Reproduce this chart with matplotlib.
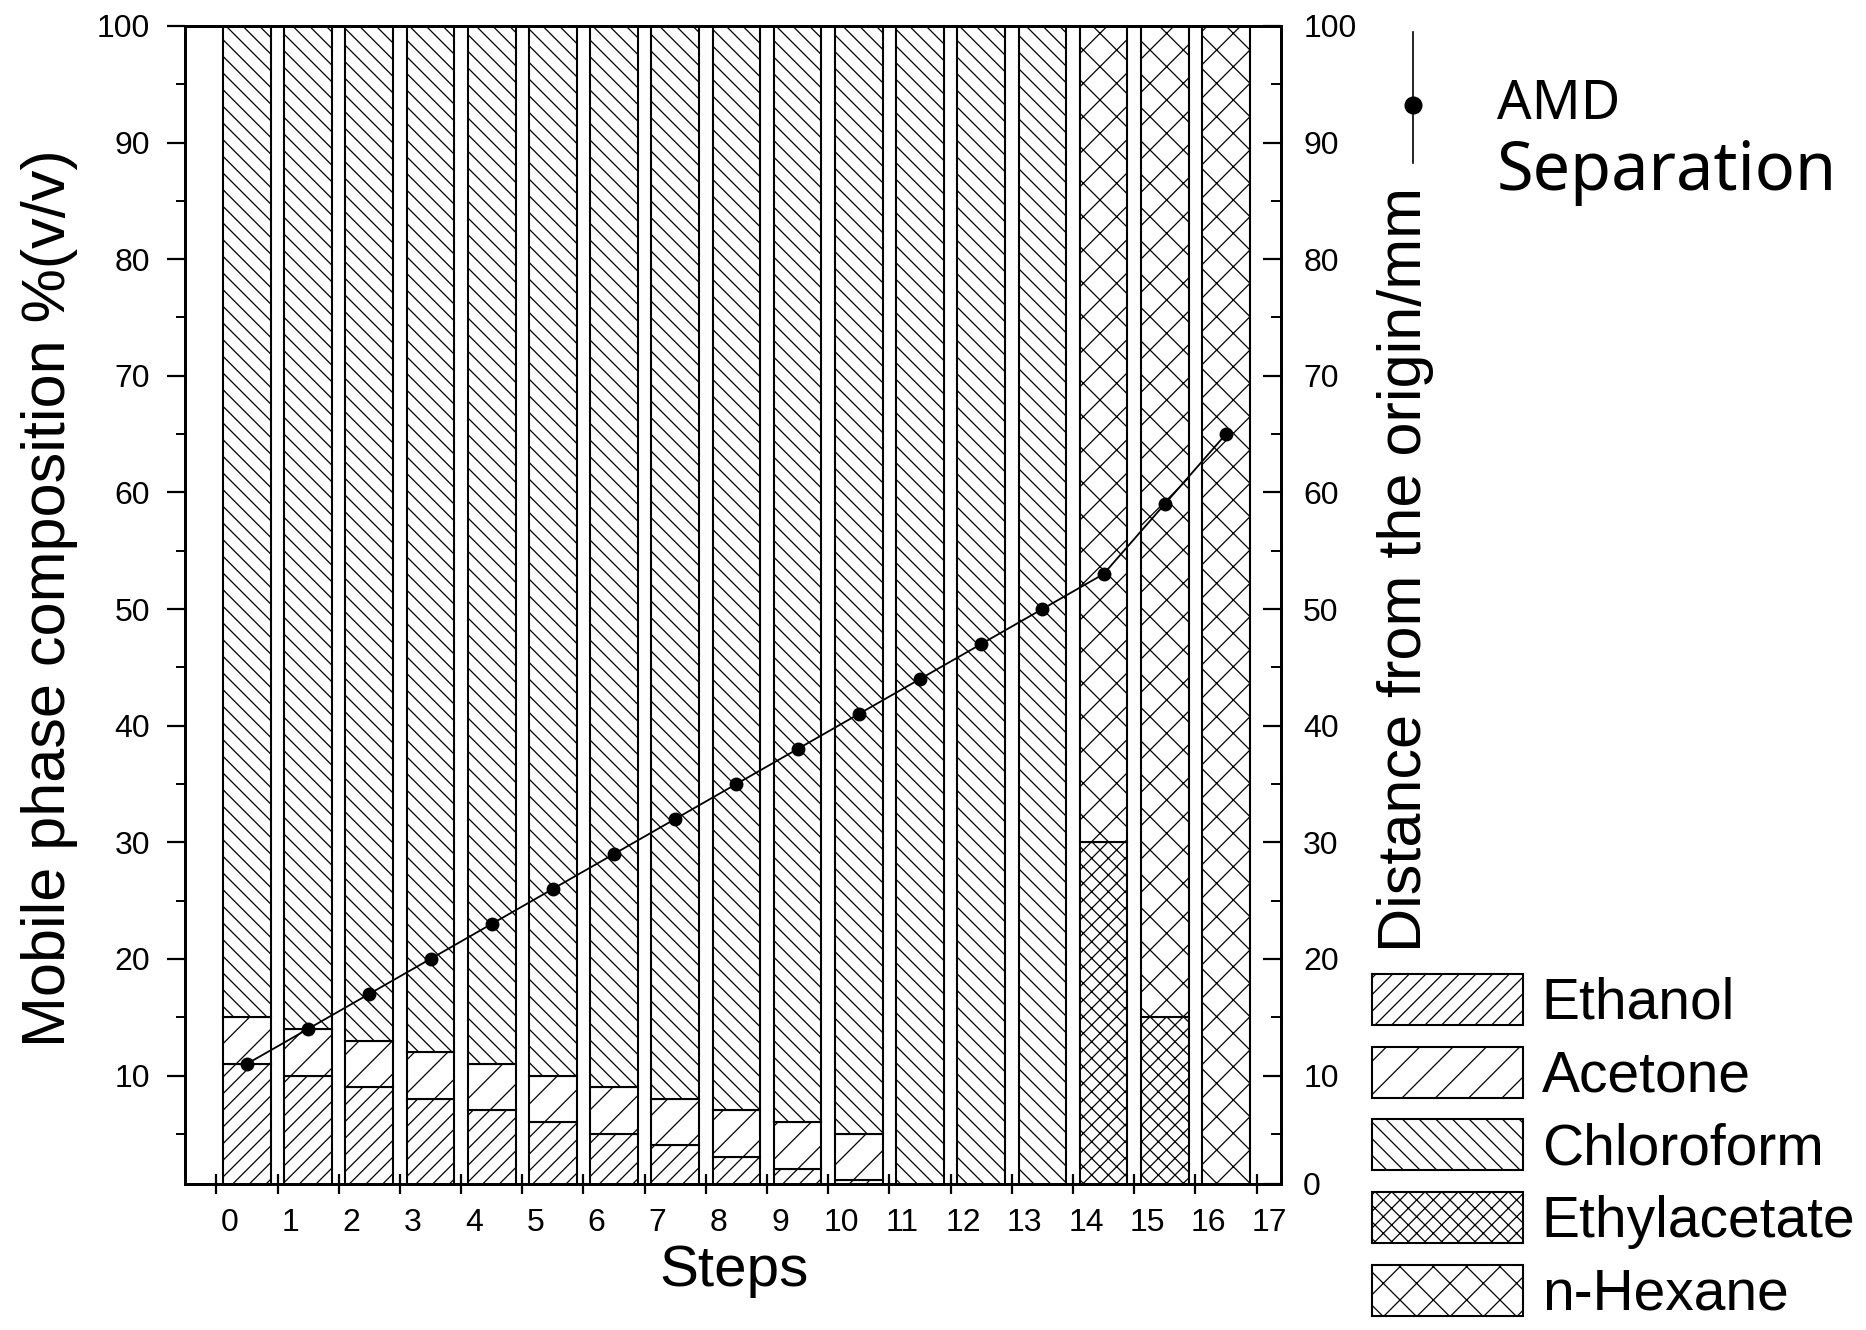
import matplotlib
matplotlib.use('Agg')
import numpy as np
import matplotlib.pyplot as plt
from matplotlib.lines import Line2D
from matplotlib.ticker import MultipleLocator
from matplotlib.transforms import ScaledTranslation

plt.rcParams['font.family'] = ['Liberation Sans', 'DejaVu Sans']
plt.rcParams['hatch.linewidth'] = 0.9

# mobile phase composition per step, % (v/v)
steps = list(range(17))
ethanol = [11, 10, 9, 8, 7, 6, 5, 4, 3, 2, 1, 0, 0, 0, 0, 0, 0]
acetone = [4, 4, 4, 4, 4, 4, 4, 4, 4, 4, 4, 0, 0, 0, 0, 0, 0]
chloroform = [85, 86, 87, 88, 89, 90, 91, 92, 93, 94, 95, 100, 100, 100, 0, 0, 0]
ethylacetate = [0, 0, 0, 0, 0, 0, 0, 0, 0, 0, 0, 0, 0, 0, 30, 15, 0]
hexane = [0, 0, 0, 0, 0, 0, 0, 0, 0, 0, 0, 0, 0, 0, 70, 85, 100]
# AMD separation, distance from origin (mm)
amd = [11, 14, 17, 20, 23, 26, 29, 32, 35, 38, 41, 44, 47, 50, 53, 59, 65]

solvents = ['Ethanol', 'Acetone', 'Chloroform', 'Ethylacetate', 'n-Hexane']
hatches = ['//', '/', '\\\\', 'xx', 'x']

fig = plt.figure(figsize=(18.66, 13.30), dpi=100)
ax = fig.add_axes([0.0989, 0.1098, 0.5876, 0.8707])

x = np.array(steps) + 0.5
comps = [ethanol, acetone, chloroform, ethylacetate, hexane]
bottom = np.zeros(len(steps))
handles = []
for vals, h in zip(comps, hatches):
    vals = np.array(vals, dtype=float)
    m = vals > 0
    bc = ax.bar(x[m], vals[m], bottom=bottom[m], width=0.78, color='white',
                edgecolor='black', linewidth=1.5, hatch=h, zorder=2)
    handles.append(bc)
    bottom += vals

# the scanned axes start a touch above zero
ybot = 0.7
ax.set_xlim(-0.52, 17.4)
ax.set_ylim(ybot, 100)
ax.set_xticks(range(18))
ax.yaxis.set_major_locator(MultipleLocator(10))
ax.yaxis.set_minor_locator(MultipleLocator(5))
ax.tick_params(axis='x', direction='inout', length=14, width=1.6, labelsize=23, pad=10)
ax.tick_params(axis='y', which='major', direction='out', length=13, width=1.6,
               labelsize=23, pad=12)
ax.tick_params(axis='y', which='minor', direction='out', length=6.5, width=1.4)
for sp in ax.spines.values():
    sp.set_linewidth(2)

# tick labels sit a bit to the right of their ticks
off = ScaledTranslation(9.4 / 72, 0, fig.dpi_scale_trans)
for lab in ax.get_xticklabels():
    lab.set_transform(lab.get_transform() + off)

ax.set_xlabel('Steps', fontsize=42)
ax.xaxis.set_label_coords(0.501, -0.052)
ax.set_ylabel('Mobile phase composition %(v/v)', fontsize=44)
ax.yaxis.set_label_coords(-0.097, 0.506)

ax2 = ax.twinx()
ax2.plot(x, amd, '-o', color='black', lw=1.3, ms=9, zorder=5)
ax2.set_ylim(ybot, 100)
rt = [ybot] + list(range(10, 101, 10))
ax2.set_yticks(rt, ['0'] + [str(v) for v in range(10, 101, 10)])
ax2.yaxis.set_minor_locator(MultipleLocator(5))
ax2.tick_params(axis='y', which='major', direction='in', length=13, width=1.6,
                labelsize=23, pad=16)
ax2.tick_params(axis='y', which='minor', direction='in', length=7, width=1.4)
ax2.set_ylabel('Distance from the origin/mm', fontsize=44)
ax2.yaxis.set_label_coords(1.0876, 0.531)
for sp in ax2.spines.values():
    sp.set_linewidth(2)

ax.legend(handles, solvents, loc='upper left',
          bbox_to_anchor=(1372 / 1866, 1 - 974 / 1330), bbox_transform=fig.transFigure,
          frameon=False, fontsize=41, handlelength=2.65, handleheight=1.0,
          labelspacing=0.275, handletextpad=0.33, borderpad=0, borderaxespad=0)

# key for the AMD curve
lx = 1413 / 1866
fig.add_artist(Line2D([lx, lx], [1 - 32 / 1330, 1 - 163 / 1330],
                      transform=fig.transFigure, color='black', lw=1.2))
fig.add_artist(Line2D([lx], [1 - 105 / 1330], transform=fig.transFigure,
                      marker='o', ms=12, color='black'))
fig.text(1497 / 1866, 1 - 119 / 1330, 'AMD', fontsize=39, family='Noto Sans',
         va='baseline')
fig.text(1497 / 1866, 1 - 190 / 1330, 'Separation', fontsize=48, family='Noto Sans',
         va='baseline')

fig.savefig('out.png', dpi=100)
